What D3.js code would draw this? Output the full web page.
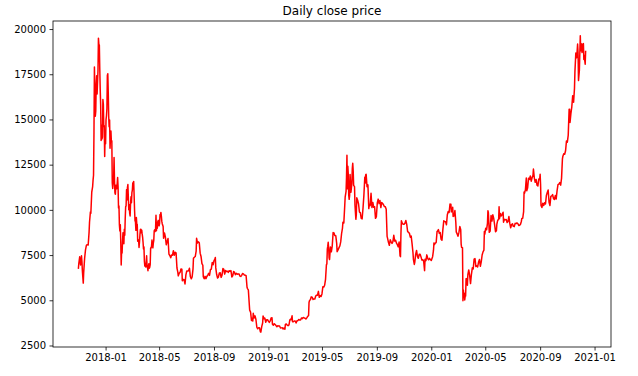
<!DOCTYPE html>
<html>
<head>
<meta charset="utf-8">
<script src="https://cdn.jsdelivr.net/npm/d3@7"></script>
<style>
    html, body { margin: 0; padding: 0; background: #fff; }
    svg { display: block; font-family: "DejaVu Sans", sans-serif; }
    .tick-label { font-size: 10px; fill: #000; }
    .title { font-size: 12px; fill: #000; }
</style>
</head>
<body>
<svg id="chart" width="638" height="376"></svg>
<script>
(function() {
    'use strict';

    // Daily close (date, close)
    var close2017 = [
        ["2017-11-01", 6737], ["2017-11-02", 7024], ["2017-11-04", 7407], ["2017-11-06", 6955], ["2017-11-07", 7144],
        ["2017-11-08", 7459], ["2017-11-09", 7143], ["2017-11-10", 6619], ["2017-11-12", 5950], ["2017-11-13", 6559],
        ["2017-11-15", 7315], ["2017-11-17", 7790], ["2017-11-19", 8036], ["2017-11-21", 8077], ["2017-11-23", 8059],
        ["2017-11-25", 8754], ["2017-11-26", 9318], ["2017-11-28", 9888], ["2017-11-29", 9816], ["2017-12-01", 10975],
        ["2017-12-03", 11291], ["2017-12-04", 11657], ["2017-12-05", 11917], ["2017-12-06", 14291], ["2017-12-07", 17899],
        ["2017-12-08", 16569], ["2017-12-09", 15178], ["2017-12-10", 15455], ["2017-12-11", 16936], ["2017-12-12", 17415],
        ["2017-12-13", 16408], ["2017-12-15", 17706], ["2017-12-16", 19497], ["2017-12-17", 19140], ["2017-12-18", 19114],
        ["2017-12-19", 17776], ["2017-12-20", 16624], ["2017-12-21", 15802], ["2017-12-22", 13831], ["2017-12-23", 14699],
        ["2017-12-24", 13925], ["2017-12-25", 14026], ["2017-12-26", 16099], ["2017-12-27", 15838], ["2017-12-28", 14606],
        ["2017-12-29", 14656], ["2017-12-30", 12952], ["2017-12-31", 14156]
    ];

    var close2018 = [
        ["2018-01-01", 13657], ["2018-01-02", 14982], ["2018-01-03", 15201], ["2018-01-04", 15600], ["2018-01-05", 17430],
        ["2018-01-06", 17527], ["2018-01-07", 16477], ["2018-01-08", 15170], ["2018-01-09", 14595], ["2018-01-10", 14973],
        ["2018-01-11", 13405], ["2018-01-12", 13980], ["2018-01-13", 14360], ["2018-01-14", 13772], ["2018-01-15", 13819],
        ["2018-01-16", 11490], ["2018-01-17", 11188], ["2018-01-18", 11474], ["2018-01-19", 11607], ["2018-01-20", 12899],
        ["2018-01-21", 11600], ["2018-01-22", 10931], ["2018-01-23", 10868], ["2018-01-24", 11359], ["2018-01-25", 11259],
        ["2018-01-26", 11171], ["2018-01-27", 11440], ["2018-01-28", 11786], ["2018-01-29", 11296], ["2018-01-30", 10106],
        ["2018-01-31", 10221], ["2018-02-01", 9171], ["2018-02-02", 8830], ["2018-02-03", 9174], ["2018-02-04", 8277],
        ["2018-02-05", 6955], ["2018-02-06", 7754], ["2018-02-07", 7621], ["2018-02-08", 8265], ["2018-02-09", 8736],
        ["2018-02-10", 8621], ["2018-02-11", 8129], ["2018-02-12", 8926], ["2018-02-13", 8598], ["2018-02-14", 9494],
        ["2018-02-15", 10166], ["2018-02-16", 10233], ["2018-02-17", 11112], ["2018-02-18", 10551], ["2018-02-19", 11225],
        ["2018-02-20", 11403], ["2018-02-21", 10690], ["2018-02-22", 10005], ["2018-02-23", 10301], ["2018-02-24", 9813],
        ["2018-02-25", 9664], ["2018-02-26", 10366], ["2018-02-27", 10725], ["2018-02-28", 10397], ["2018-03-01", 10951],
        ["2018-03-02", 11086], ["2018-03-03", 11489], ["2018-03-04", 11512], ["2018-03-05", 11573], ["2018-03-06", 10780],
        ["2018-03-07", 9965], ["2018-03-08", 9395], ["2018-03-09", 9337], ["2018-03-10", 8866], ["2018-03-11", 9578],
        ["2018-03-12", 9205], ["2018-03-13", 9194], ["2018-03-14", 8269], ["2018-03-15", 8300], ["2018-03-16", 8338],
        ["2018-03-17", 7917], ["2018-03-18", 8223], ["2018-03-19", 8630], ["2018-03-20", 8913], ["2018-03-21", 8929],
        ["2018-03-22", 8729], ["2018-03-23", 8880], ["2018-03-24", 8668], ["2018-03-25", 8495], ["2018-03-26", 8209],
        ["2018-03-27", 7834], ["2018-03-28", 7954], ["2018-03-29", 7165], ["2018-03-30", 6890], ["2018-03-31", 6973],
        ["2018-04-01", 6845], ["2018-04-02", 7083], ["2018-04-03", 7456], ["2018-04-04", 6853], ["2018-04-05", 6811],
        ["2018-04-06", 6636], ["2018-04-07", 6911], ["2018-04-08", 7023], ["2018-04-09", 6770], ["2018-04-10", 6834],
        ["2018-04-11", 6968], ["2018-04-12", 7889], ["2018-04-13", 7895], ["2018-04-14", 7986], ["2018-04-15", 8329],
        ["2018-04-16", 8058], ["2018-04-17", 7902], ["2018-04-18", 8163], ["2018-04-19", 8294], ["2018-04-20", 8845],
        ["2018-04-21", 8895], ["2018-04-22", 8802], ["2018-04-23", 8930], ["2018-04-24", 9697], ["2018-04-25", 8845],
        ["2018-04-26", 9281], ["2018-04-27", 8987], ["2018-04-28", 9348], ["2018-04-29", 9419], ["2018-04-30", 9240],
        ["2018-05-01", 9119], ["2018-05-02", 9235], ["2018-05-03", 9744], ["2018-05-04", 9700], ["2018-05-05", 9858],
        ["2018-05-06", 9654], ["2018-05-07", 9374], ["2018-05-08", 9234], ["2018-05-10", 9081], ["2018-05-11", 8436],
        ["2018-05-13", 8723], ["2018-05-15", 8504], ["2018-05-17", 8069], ["2018-05-19", 8247], ["2018-05-21", 8419],
        ["2018-05-23", 7557], ["2018-05-25", 7476], ["2018-05-27", 7355], ["2018-05-29", 7502], ["2018-05-31", 7494],
        ["2018-06-02", 7741], ["2018-06-04", 7486], ["2018-06-06", 7654], ["2018-06-08", 7624], ["2018-06-10", 6786],
        ["2018-06-12", 6548], ["2018-06-13", 6349], ["2018-06-15", 6499], ["2018-06-17", 6545], ["2018-06-19", 6735],
        ["2018-06-21", 6721], ["2018-06-22", 6083], ["2018-06-24", 6153], ["2018-06-26", 6135], ["2018-06-28", 5903],
        ["2018-06-30", 6404], ["2018-07-02", 6619], ["2018-07-04", 6616], ["2018-07-06", 6631], ["2018-07-08", 6770],
        ["2018-07-10", 6311], ["2018-07-12", 6186], ["2018-07-14", 6292], ["2018-07-16", 6739], ["2018-07-17", 7321],
        ["2018-07-19", 7378], ["2018-07-21", 7419], ["2018-07-23", 7716], ["2018-07-24", 8424], ["2018-07-26", 8173],
        ["2018-07-28", 8230], ["2018-07-30", 8182], ["2018-08-01", 7605], ["2018-08-03", 7419], ["2018-08-05", 7029],
        ["2018-08-07", 6938], ["2018-08-08", 6306], ["2018-08-10", 6189], ["2018-08-12", 6322], ["2018-08-14", 6199],
        ["2018-08-16", 6316], ["2018-08-18", 6396], ["2018-08-20", 6491], ["2018-08-22", 6376], ["2018-08-24", 6690],
        ["2018-08-26", 6723], ["2018-08-28", 7090], ["2018-08-30", 6966], ["2018-09-01", 7194], ["2018-09-03", 7271],
        ["2018-09-04", 7370], ["2018-09-05", 6792], ["2018-09-07", 6423], ["2018-09-09", 6227], ["2018-09-11", 6291],
        ["2018-09-13", 6510], ["2018-09-15", 6518], ["2018-09-17", 6267], ["2018-09-19", 6390], ["2018-09-21", 6757],
        ["2018-09-23", 6710], ["2018-09-25", 6446], ["2018-09-27", 6644], ["2018-09-29", 6592], ["2018-10-01", 6605],
        ["2018-10-03", 6545], ["2018-10-05", 6636], ["2018-10-07", 6602], ["2018-10-09", 6639], ["2018-10-11", 6290],
        ["2018-10-13", 6349], ["2018-10-15", 6597], ["2018-10-17", 6544], ["2018-10-19", 6417], ["2018-10-21", 6488],
        ["2018-10-23", 6446], ["2018-10-25", 6453], ["2018-10-27", 6460], ["2018-10-29", 6344], ["2018-10-31", 6318],
        ["2018-11-02", 6379], ["2018-11-04", 6480], ["2018-11-06", 6461], ["2018-11-08", 6401], ["2018-11-10", 6386],
        ["2018-11-12", 6360], ["2018-11-14", 5738], ["2018-11-15", 5648], ["2018-11-17", 5578], ["2018-11-19", 4809],
        ["2018-11-20", 4452], ["2018-11-22", 4347], ["2018-11-24", 3880], ["2018-11-25", 4009], ["2018-11-27", 3857],
        ["2018-11-28", 4278], ["2018-11-30", 4017], ["2018-12-02", 4139], ["2018-12-04", 3936], ["2018-12-06", 3509],
        ["2018-12-08", 3421], ["2018-12-10", 3486], ["2018-12-12", 3487], ["2018-12-14", 3250], ["2018-12-15", 3236],
        ["2018-12-17", 3545], ["2018-12-19", 3745], ["2018-12-20", 4134], ["2018-12-22", 3983], ["2018-12-24", 4016],
        ["2018-12-26", 3779], ["2018-12-28", 3923], ["2018-12-30", 3923]
    ];

    var close2019 = [
        ["2019-01-01", 3843], ["2019-01-03", 3780], ["2019-01-05", 3857], ["2019-01-07", 4025], ["2019-01-09", 4035],
        ["2019-01-10", 3679], ["2019-01-12", 3627], ["2019-01-14", 3706], ["2019-01-16", 3655], ["2019-01-18", 3601],
        ["2019-01-20", 3536], ["2019-01-22", 3597], ["2019-01-24", 3583], ["2019-01-26", 3577], ["2019-01-28", 3464],
        ["2019-01-30", 3474], ["2019-02-01", 3487], ["2019-02-03", 3414], ["2019-02-05", 3467], ["2019-02-07", 3400],
        ["2019-02-08", 3666], ["2019-02-10", 3693], ["2019-02-12", 3625], ["2019-02-14", 3593], ["2019-02-16", 3632],
        ["2019-02-18", 3913], ["2019-02-19", 3947], ["2019-02-21", 3924], ["2019-02-23", 4142], ["2019-02-24", 3810],
        ["2019-02-26", 3813], ["2019-02-28", 3854], ["2019-03-02", 3859], ["2019-03-04", 3739], ["2019-03-06", 3872],
        ["2019-03-08", 3875], ["2019-03-10", 3938], ["2019-03-12", 3906], ["2019-03-14", 3905], ["2019-03-16", 4025],
        ["2019-03-18", 3986], ["2019-03-20", 4048], ["2019-03-22", 4027], ["2019-03-24", 4005], ["2019-03-26", 3963],
        ["2019-03-28", 4027], ["2019-03-30", 4105], ["2019-04-01", 4158], ["2019-04-02", 4880], ["2019-04-03", 4973],
        ["2019-04-05", 5035], ["2019-04-07", 5190], ["2019-04-09", 5176], ["2019-04-11", 5047], ["2019-04-13", 5069],
        ["2019-04-15", 5066], ["2019-04-17", 5236], ["2019-04-19", 5285], ["2019-04-21", 5282], ["2019-04-23", 5493],
        ["2019-04-25", 5166], ["2019-04-27", 5260], ["2019-04-29", 5210], ["2019-05-01", 5351], ["2019-05-03", 5746],
        ["2019-05-05", 5732], ["2019-05-07", 5831], ["2019-05-09", 6161], ["2019-05-11", 6971], ["2019-05-12", 7006],
        ["2019-05-13", 7825], ["2019-05-14", 7991], ["2019-05-15", 8208], ["2019-05-16", 7886], ["2019-05-17", 7354],
        ["2019-05-18", 7257], ["2019-05-20", 7951], ["2019-05-22", 7681], ["2019-05-24", 7995], ["2019-05-26", 8742],
        ["2019-05-28", 8719], ["2019-05-30", 8575], ["2019-06-01", 8564], ["2019-06-03", 8150], ["2019-06-04", 7689],
        ["2019-06-06", 7786], ["2019-06-08", 7896], ["2019-06-10", 8000], ["2019-06-12", 8230], ["2019-06-14", 8693],
        ["2019-06-16", 8994], ["2019-06-17", 9320], ["2019-06-19", 9273], ["2019-06-21", 10209], ["2019-06-22", 10701],
        ["2019-06-24", 11017], ["2019-06-25", 11777], ["2019-06-26", 13017], ["2019-06-27", 11163], ["2019-06-28", 12407],
        ["2019-06-29", 11960], ["2019-06-30", 10817], ["2019-07-01", 10583], ["2019-07-02", 10801], ["2019-07-03", 11961],
        ["2019-07-05", 10979], ["2019-07-07", 11450], ["2019-07-08", 12285], ["2019-07-09", 12573], ["2019-07-10", 12157],
        ["2019-07-11", 11358], ["2019-07-13", 11283], ["2019-07-14", 10257], ["2019-07-16", 9478], ["2019-07-17", 9720],
        ["2019-07-18", 10666], ["2019-07-20", 10531], ["2019-07-22", 10325], ["2019-07-24", 9880], ["2019-07-26", 9848],
        ["2019-07-28", 9529], ["2019-07-30", 9501], ["2019-08-01", 10089], ["2019-08-03", 10817], ["2019-08-05", 11805],
        ["2019-08-06", 11479], ["2019-08-07", 11941], ["2019-08-08", 11966], ["2019-08-10", 11283], ["2019-08-12", 11382],
        ["2019-08-14", 10069], ["2019-08-15", 10312], ["2019-08-17", 10233], ["2019-08-19", 10917], ["2019-08-21", 10131],
        ["2019-08-23", 10407], ["2019-08-25", 10144], ["2019-08-27", 10173], ["2019-08-29", 9531], ["2019-08-31", 9630],
        ["2019-09-02", 10383], ["2019-09-04", 10594], ["2019-09-06", 10345], ["2019-09-08", 10514], ["2019-09-10", 10125],
        ["2019-09-12", 10410], ["2019-09-14", 10358], ["2019-09-16", 10271], ["2019-09-18", 10185], ["2019-09-20", 10169],
        ["2019-09-22", 10036], ["2019-09-24", 8532], ["2019-09-25", 8434], ["2019-09-27", 8205], ["2019-09-29", 8043],
        ["2019-10-01", 8343], ["2019-10-03", 8232], ["2019-10-05", 8148], ["2019-10-07", 8245], ["2019-10-09", 8595],
        ["2019-10-11", 8273], ["2019-10-13", 8321], ["2019-10-15", 8162], ["2019-10-17", 8077], ["2019-10-19", 7955],
        ["2019-10-21", 8223], ["2019-10-23", 7469], ["2019-10-24", 7413], ["2019-10-25", 8661], ["2019-10-26", 9400],
        ["2019-10-28", 9256], ["2019-10-30", 9205], ["2019-11-01", 9199], ["2019-11-03", 9261], ["2019-11-05", 9412],
        ["2019-11-07", 9202], ["2019-11-09", 8804], ["2019-11-11", 8757], ["2019-11-13", 8708], ["2019-11-15", 8491],
        ["2019-11-17", 8550], ["2019-11-19", 8118], ["2019-11-21", 7627], ["2019-11-22", 7268], ["2019-11-24", 6985],
        ["2019-11-25", 7097], ["2019-11-27", 7538], ["2019-11-29", 7754], ["2019-12-01", 7424], ["2019-12-03", 7321],
        ["2019-12-05", 7547], ["2019-12-07", 7548], ["2019-12-09", 7400], ["2019-12-11", 7222], ["2019-12-13", 7243],
        ["2019-12-15", 7152], ["2019-12-17", 6640], ["2019-12-18", 7276], ["2019-12-20", 7191], ["2019-12-22", 7511],
        ["2019-12-24", 7322], ["2019-12-26", 7238], ["2019-12-28", 7317], ["2019-12-30", 7261]
    ];

    var close2020 = [
        ["2020-01-01", 7200], ["2020-01-03", 7344], ["2020-01-04", 7410], ["2020-01-06", 7769], ["2020-01-07", 8164],
        ["2020-01-08", 8079], ["2020-01-10", 8166], ["2020-01-12", 8193], ["2020-01-14", 8812], ["2020-01-15", 8821],
        ["2020-01-17", 8908], ["2020-01-19", 8706], ["2020-01-21", 8745], ["2020-01-23", 8381], ["2020-01-25", 8324],
        ["2020-01-27", 8909], ["2020-01-29", 9392], ["2020-01-31", 9350], ["2020-02-02", 9344], ["2020-02-04", 9180],
        ["2020-02-06", 9729], ["2020-02-08", 9911], ["2020-02-10", 9856], ["2020-02-12", 10326], ["2020-02-13", 10214],
        ["2020-02-14", 10312], ["2020-02-15", 9889], ["2020-02-17", 9934], ["2020-02-18", 10142], ["2020-02-19", 9633],
        ["2020-02-21", 9667], ["2020-02-23", 9963], ["2020-02-25", 9316], ["2020-02-26", 8785], ["2020-02-28", 8672],
        ["2020-03-01", 8545], ["2020-03-03", 8755], ["2020-03-05", 9078], ["2020-03-07", 8909], ["2020-03-08", 8108],
        ["2020-03-09", 7923], ["2020-03-10", 7909], ["2020-03-11", 7911], ["2020-03-12", 4970], ["2020-03-13", 5563],
        ["2020-03-14", 5200], ["2020-03-15", 5392], ["2020-03-16", 5014], ["2020-03-17", 5225], ["2020-03-18", 5238],
        ["2020-03-19", 6191], ["2020-03-20", 6198], ["2020-03-22", 5830], ["2020-03-23", 6416], ["2020-03-25", 6681],
        ["2020-03-27", 6373], ["2020-03-29", 5922], ["2020-03-31", 6438], ["2020-04-02", 6793], ["2020-04-04", 6733],
        ["2020-04-06", 7271], ["2020-04-08", 7302], ["2020-04-10", 6865], ["2020-04-12", 6911], ["2020-04-14", 6843],
        ["2020-04-16", 7116], ["2020-04-18", 7257], ["2020-04-20", 6881], ["2020-04-22", 7129], ["2020-04-24", 7505],
        ["2020-04-26", 7679], ["2020-04-28", 7769], ["2020-04-29", 8801], ["2020-04-30", 8658], ["2020-05-02", 8983],
        ["2020-05-04", 8897], ["2020-05-06", 9268], ["2020-05-07", 9951], ["2020-05-08", 9842], ["2020-05-10", 8756],
        ["2020-05-12", 8822], ["2020-05-14", 9690], ["2020-05-16", 9378], ["2020-05-18", 9726], ["2020-05-20", 9522],
        ["2020-05-22", 9170], ["2020-05-24", 8790], ["2020-05-26", 8840], ["2020-05-27", 9204], ["2020-05-29", 9429],
        ["2020-05-31", 9461], ["2020-06-01", 10167], ["2020-06-02", 9529], ["2020-06-04", 9796], ["2020-06-06", 9667],
        ["2020-06-08", 9758], ["2020-06-10", 9870], ["2020-06-11", 9321], ["2020-06-13", 9475], ["2020-06-15", 9450],
        ["2020-06-17", 9465], ["2020-06-19", 9303], ["2020-06-21", 9358], ["2020-06-23", 9629], ["2020-06-25", 9249],
        ["2020-06-27", 9009], ["2020-06-29", 9190], ["2020-07-01", 9228], ["2020-07-03", 9087], ["2020-07-05", 9073],
        ["2020-07-07", 9253], ["2020-07-09", 9238], ["2020-07-11", 9277], ["2020-07-13", 9243], ["2020-07-15", 9132],
        ["2020-07-17", 9151], ["2020-07-19", 9208], ["2020-07-21", 9375], ["2020-07-22", 9525], ["2020-07-24", 9537],
        ["2020-07-26", 9905], ["2020-07-27", 10990], ["2020-07-28", 10912], ["2020-07-30", 11111], ["2020-08-01", 11759],
        ["2020-08-02", 11054], ["2020-08-04", 11226], ["2020-08-06", 11754], ["2020-08-08", 11681], ["2020-08-10", 11878],
        ["2020-08-12", 11584], ["2020-08-14", 11772], ["2020-08-16", 11911], ["2020-08-17", 12254], ["2020-08-19", 11758],
        ["2020-08-21", 11524], ["2020-08-23", 11681], ["2020-08-25", 11366], ["2020-08-27", 11325], ["2020-08-29", 11711],
        ["2020-08-31", 11680], ["2020-09-01", 11971], ["2020-09-02", 11414], ["2020-09-03", 10246], ["2020-09-05", 10131],
        ["2020-09-07", 10369], ["2020-09-09", 10242], ["2020-09-11", 10392], ["2020-09-13", 10324], ["2020-09-15", 10797],
        ["2020-09-17", 10956], ["2020-09-19", 11095], ["2020-09-21", 10418], ["2020-09-23", 10242], ["2020-09-25", 10745],
        ["2020-09-27", 10776], ["2020-09-29", 10845], ["2020-10-01", 10620], ["2020-10-03", 10575], ["2020-10-05", 10792],
        ["2020-10-07", 10604], ["2020-10-09", 11065], ["2020-10-11", 11392], ["2020-10-13", 11426], ["2020-10-15", 11506],
        ["2020-10-17", 11369], ["2020-10-19", 11743], ["2020-10-21", 12824], ["2020-10-22", 12965], ["2020-10-24", 13108],
        ["2020-10-26", 13075], ["2020-10-28", 13271], ["2020-10-30", 13804], ["2020-11-01", 13738], ["2020-11-03", 14134],
        ["2020-11-05", 15565], ["2020-11-06", 15565], ["2020-11-07", 14833], ["2020-11-09", 15332], ["2020-11-11", 15701],
        ["2020-11-13", 16317], ["2020-11-15", 15955], ["2020-11-17", 16716], ["2020-11-18", 17645], ["2020-11-20", 18679],
        ["2020-11-22", 18414], ["2020-11-24", 19166], ["2020-11-25", 18719], ["2020-11-26", 17150], ["2020-11-28", 17730],
        ["2020-11-30", 19625], ["2020-12-01", 18803], ["2020-12-02", 19201], ["2020-12-04", 18699], ["2020-12-05", 19154],
        ["2020-12-07", 19191], ["2020-12-08", 18321], ["2020-12-09", 18553], ["2020-12-10", 18264], ["2020-12-11", 18058],
        ["2020-12-12", 18803]
    ];

    var yTicks = [2500, 5000, 7500, 10000, 12500, 15000, 17500, 20000];
    var xTickLabels = ["2018-01", "2018-05", "2018-09", "2019-01", "2019-05", "2019-09", "2020-01", "2020-05", "2020-09", "2021-01"];
    var title = "Daily close price";

    // Layout
    var width = 638, height = 376;
    var margin = { top: 21, right: 27, bottom: 29, left: 53 };
    var innerW = width - margin.left - margin.right;
    var innerH = height - margin.top - margin.bottom;

    var parse = d3.utcParse("%Y-%m-%d");
    var parseMonth = d3.utcParse("%Y-%m");
    var data = [].concat(close2017, close2018, close2019, close2020).map(function(d) {
        return { date: parse(d[0]), close: d[1] };
    });

    // matplotlib-style 5% margins around the data
    var xExt = d3.extent(data, function(d) { return d.date; });
    var xPad = (xExt[1] - xExt[0]) * 0.05;
    var yExt = d3.extent(data, function(d) { return d.close; });
    var yPad = (yExt[1] - yExt[0]) * 0.05;

    var xScale = d3.scaleUtc()
        .domain([new Date(+xExt[0] - xPad), new Date(+xExt[1] + xPad)])
        .range([0, innerW]);
    var yScale = d3.scaleLinear()
        .domain([yExt[0] - yPad, yExt[1] + yPad])
        .range([innerH, 0]);

    var svg = d3.select("#chart");
    var g = svg.append("g").attr("transform", "translate(" + margin.left + "," + margin.top + ")");

    var line = d3.line()
        .x(function(d) { return xScale(d.date); })
        .y(function(d) { return yScale(d.close); });

    g.append("path")
        .datum(data)
        .attr("d", line)
        .attr("fill", "none")
        .attr("stroke", "#ff0000")
        .attr("stroke-width", 1.5)
        .attr("stroke-linejoin", "round");

    // Axes
    var xAxis = d3.axisBottom(xScale)
        .tickValues(xTickLabels.map(function(s) { return parseMonth(s); }))
        .tickFormat(d3.utcFormat("%Y-%m"))
        .tickSizeInner(3.5).tickSizeOuter(0).tickPadding(3.5);
    var yAxis = d3.axisLeft(yScale)
        .tickValues(yTicks)
        .tickFormat(d3.format("d"))
        .tickSizeInner(3.5).tickSizeOuter(0).tickPadding(3.5);

    var gx = g.append("g").attr("transform", "translate(0," + innerH + ")").call(xAxis);
    var gy = g.append("g").call(yAxis);
    [gx, gy].forEach(function(a) {
        a.select(".domain").remove();
        a.selectAll("line").attr("stroke", "#000").attr("stroke-width", 0.8);
        a.selectAll("text").attr("class", "tick-label").attr("font-family", null).attr("font-size", null);
    });
    gx.attr("font-family", null).attr("font-size", null);
    gy.attr("font-family", null).attr("font-size", null);

    // Frame
    g.append("rect")
        .attr("width", innerW).attr("height", innerH)
        .attr("fill", "none").attr("stroke", "#000").attr("stroke-width", 0.8);

    svg.append("text")
        .attr("class", "title")
        .attr("x", margin.left + innerW / 2)
        .attr("y", margin.top - 6)
        .attr("text-anchor", "middle")
        .text(title);
})();
</script>
</body>
</html>
